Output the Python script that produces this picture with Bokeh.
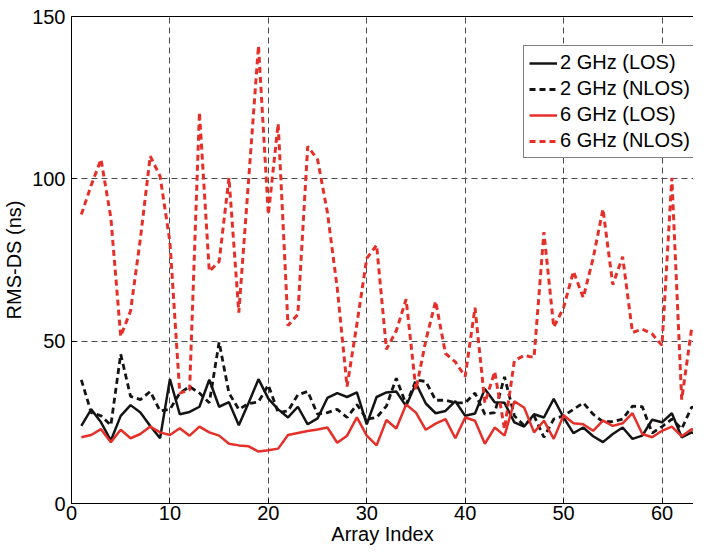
from bokeh.plotting import figure
from bokeh.models import LinearAxis, FixedTicker, Legend, LegendItem
from bokeh.embed import file_html
from bokeh.resources import INLINE

# ---- data ----
array_index = [1, 2, 3, 4, 5, 6, 7, 8, 9, 10, 11, 12, 13, 14, 15, 16,
               17, 18, 19, 20, 21, 22, 23, 24, 25, 26, 27, 28, 29, 30, 31, 32,
               33, 34, 35, 36, 37, 38, 39, 40, 41, 42, 43, 44, 45, 46, 47, 48,
               49, 50, 51, 52, 53, 54, 55, 56, 57, 58, 59, 60, 61, 62, 63, 64]

ghz2_los = [23.9, 29.0, 25.0, 19.4, 27.0, 30.3, 28.0, 23.9, 20.1, 38.3, 27.5, 28.2, 29.8, 38.1, 29.8, 31.2,
            24.1, 31.0, 38.3, 32.3, 29.0, 26.5, 29.8, 24.4, 26.2, 32.5, 34.0, 32.8, 34.2, 24.4, 32.8, 34.2,
            34.5, 30.0, 37.0, 30.8, 27.8, 28.5, 31.5, 27.0, 27.7, 35.3, 31.2, 31.0, 25.0, 23.7, 27.5, 26.5,
            32.2, 26.5, 21.7, 23.4, 20.7, 18.9, 21.4, 23.4, 19.9, 20.9, 25.8, 25.0, 27.8, 20.4, 21.9, 21.0]

ghz2_nlos = [38.1, 28.0, 27.0, 24.1, 46.0, 33.0, 32.0, 34.5, 28.5, 29.0, 34.0, 36.0, 34.0, 31.0, 49.7, 34.0,
             29.0, 30.8, 31.3, 36.5, 28.0, 28.5, 33.5, 34.5, 27.5, 28.0, 29.0, 26.5, 30.5, 26.0, 26.5, 30.0,
             38.6, 30.5, 38.0, 37.6, 31.8, 31.8, 31.0, 31.0, 34.0, 27.5, 28.0, 39.0, 27.0, 24.0, 27.0, 20.4,
             26.0, 27.0, 29.0, 31.0, 27.5, 25.2, 25.2, 26.0, 30.0, 29.8, 21.7, 23.7, 26.0, 23.0, 29.6, 30.0]

ghz6_los = [20.4, 21.1, 22.9, 18.9, 22.7, 20.1, 21.4, 23.7, 21.9, 21.1, 23.2, 20.9, 23.7, 21.9, 20.9, 18.4,
            17.9, 17.6, 16.0, 16.4, 16.9, 21.1, 21.7, 22.3, 22.8, 23.4, 18.7, 20.9, 26.5, 20.9, 17.9, 25.7,
            23.1, 30.5, 28.0, 22.7, 24.6, 26.0, 20.1, 26.5, 25.5, 18.4, 23.4, 20.9, 31.5, 29.5, 21.9, 25.5,
            19.9, 27.2, 24.7, 24.4, 22.4, 25.5, 23.9, 24.7, 27.8, 21.4, 20.4, 22.4, 23.7, 20.7, 22.9, 22.0]

ghz6_nlos = [89.0, 98.0, 106.0, 88.0, 51.5, 59.3, 81.6, 107.0, 100.8, 80.6, 34.0, 35.0, 120.5, 71.5, 74.5, 100.3,
             58.8, 99.8, 141.0, 89.0, 117.0, 54.8, 58.3, 110.0, 106.0, 89.7, 66.4, 36.0, 55.3, 75.5, 79.6, 47.5,
             53.2, 62.9, 35.0, 50.2, 62.3, 46.2, 43.6, 39.1, 60.3, 31.0, 40.6, 22.9, 44.0, 45.6, 45.0, 83.6,
             54.3, 60.3, 71.5, 63.4, 75.5, 90.7, 67.4, 76.0, 52.7, 53.7, 52.2, 48.7, 100.3, 32.0, 53.7, 55.0]

x_ticks = [0, 10, 20, 30, 40, 50, 60]
y_ticks = [0, 50, 100, 150]
labels = ["2 GHz (LOS)", "2 GHz (NLOS)", "6 GHz (LOS)", "6 GHz (NLOS)"]

BLACK = "#141414"
RED = "#e5302a"
FONT = "Liberation Sans"

p = figure(width=693, height=548, x_range=(0, 63.2), y_range=(0, 150),
           output_backend="svg", toolbar_location=None,
           min_border_left=61, min_border_right=0, min_border_top=16, min_border_bottom=45,
           x_axis_label="Array Index", y_axis_label="RMS-DS (ns)")
p.outline_line_color = None
p.background_fill_color = "white"
p.border_fill_color = "white"

for ax, ticks in ((p.xaxis[0], x_ticks), (p.yaxis[0], y_ticks)):
    ax.ticker = FixedTicker(ticks=ticks)
    ax.major_tick_in = 5
    ax.major_tick_out = 0
    ax.minor_tick_line_color = None
    ax.axis_line_color = "black"
    ax.major_tick_line_color = "black"
    ax.major_label_text_font = FONT
    ax.major_label_text_font_size = "20px"
    ax.major_label_text_color = "black"
    ax.axis_label_text_font = FONT
    ax.axis_label_text_font_size = "20px"
    ax.axis_label_text_font_style = "normal"
    ax.axis_label_text_color = "black"

p.xaxis.major_label_standoff = 2
p.xaxis.axis_label_standoff = 0
p.yaxis.major_label_standoff = 6
p.yaxis.axis_label_standoff = 4

# top border line (no labels), like the reference's box edge
top_axis = LinearAxis(ticker=FixedTicker(ticks=[]), major_tick_in=0, major_tick_out=0,
                      minor_tick_line_color=None, major_label_standoff=0,
                      axis_line_color="black")
p.add_layout(top_axis, "above")

for g in (p.xgrid[0], p.ygrid[0]):
    g.grid_line_color = "#4a4a4a"
    g.grid_line_dash = "6 4"
    g.grid_line_width = 1

r1 = p.line(array_index, ghz2_los, line_color=BLACK, line_width=2.5)
r2 = p.line(array_index, ghz2_nlos, line_color=BLACK, line_width=2.8, line_dash="6 4")
r3 = p.line(array_index, ghz6_los, line_color=RED, line_width=2.5)
r4 = p.line(array_index, ghz6_nlos, line_color=RED, line_width=3.0, line_dash="6 4")

legend = Legend(items=[LegendItem(label=labels[0], renderers=[r1]),
                       LegendItem(label=labels[1], renderers=[r2]),
                       LegendItem(label=labels[2], renderers=[r3]),
                       LegendItem(label=labels[3], renderers=[r4])],
                location=(452, 345))
legend.label_text_font = FONT
legend.label_text_font_size = "20px"
legend.label_text_color = "black"
legend.glyph_width = 28
legend.glyph_height = 22
legend.label_height = 22
legend.label_standoff = 3
legend.spacing = 3
legend.padding = 5
legend.margin = 0
legend.border_line_color = "black"
legend.border_line_width = 1
legend.background_fill_alpha = 1.0
p.add_layout(legend, "center")

open("out.html", "w").write(file_html(p, INLINE))
